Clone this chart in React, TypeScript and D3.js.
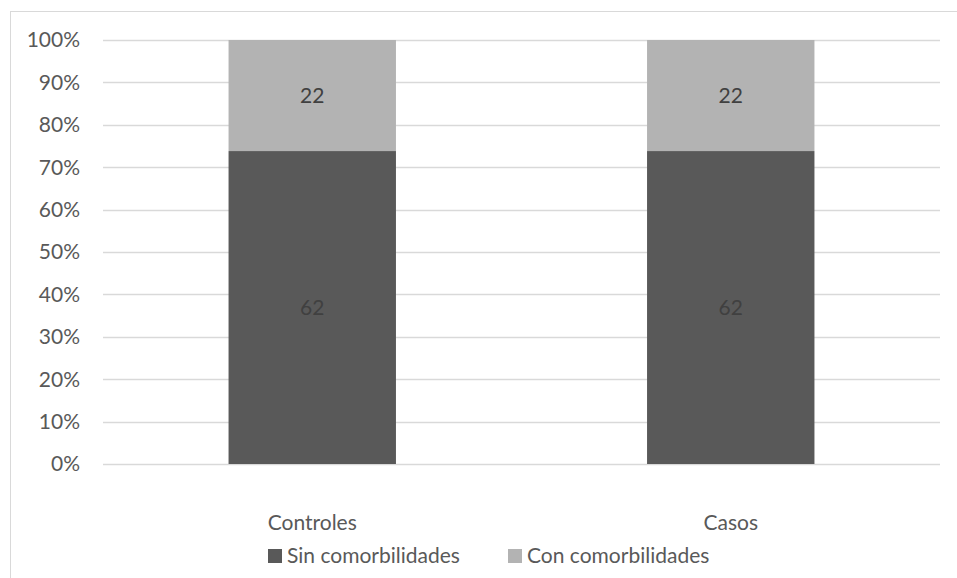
import React, { useRef, useEffect } from 'react';
import * as d3 from 'd3';

const categories = ['Controles', 'Casos'];
const sinValues = [62, 62];
const conValues = [22, 22];
const seriesNames = ['Sin comorbilidades', 'Con comorbilidades'];
const yTicks = [0, 0.1, 0.2, 0.3, 0.4, 0.5, 0.6, 0.7, 0.8, 0.9, 1];

const colors = ['#595959', '#b3b3b3'];
const font = 'Lato, Carlito, "Open Sans", sans-serif';
const fs = 21;

export default function App() {
	const ref = useRef<SVGSVGElement | null>(null);

	useEffect(() => {
		if (!ref.current) return;
		const svg = d3.select(ref.current);
		svg.selectAll('*').remove();

		const width = 957;
		const height = 578;
		const margin = { top: 40, right: 17, bottom: 114, left: 103 };

		// chart border (only top/left visible in the frame)
		svg.append('rect')
			.attr('x', 10.5).attr('y', 11.5)
			.attr('width', 960).attr('height', 600)
			.attr('fill', '#fff').attr('stroke', '#d9d9d9');

		const x = d3.scaleBand<string>()
			.domain(categories)
			.range([margin.left, width - margin.right])
			.paddingInner(0.6)
			.paddingOuter(0.3);
		const y = d3.scaleLinear().domain([0, 1]).range([height - margin.bottom, margin.top]);

		// gridlines
		svg.append('g').selectAll('line').data(yTicks).join('line')
			.attr('x1', margin.left).attr('x2', width - margin.right)
			.attr('y1', d => Math.round(y(d)) + 0.5).attr('y2', d => Math.round(y(d)) + 0.5)
			.attr('stroke', '#d9d9d9').attr('stroke-width', 1.3);

		// y axis labels
		svg.append('g').selectAll('text').data(yTicks).join('text')
			.attr('x', 80).attr('y', d => y(d))
			.attr('dy', '0.35em').attr('text-anchor', 'end')
			.attr('font-family', font).attr('font-size', fs).attr('fill', '#595959')
			.text(d => d3.format('.0%')(d));

		const rows = categories.map((c, i) => {
			const total = sinValues[i] + conValues[i];
			return { cat: c, parts: [sinValues[i], conValues[i]], total };
		});

		rows.forEach(r => {
			let acc = 0;
			r.parts.forEach((v, j) => {
				const y0 = acc / r.total;
				const y1 = (acc + v) / r.total;
				acc += v;
				svg.append('rect')
					.attr('x', x(r.cat)!).attr('width', x.bandwidth())
					.attr('y', y(y1)).attr('height', y(y0) - y(y1))
					.attr('fill', colors[j]);
				svg.append('text')
					.attr('x', x(r.cat)! + x.bandwidth() / 2)
					.attr('y', y((y0 + y1) / 2)).attr('dy', '0.35em')
					.attr('text-anchor', 'middle')
					.attr('font-family', font).attr('font-size', fs).attr('fill', '#404040')
					.text(v);
			});
		});

		// x axis labels
		svg.append('g').selectAll('text').data(categories).join('text')
			.attr('x', d => x(d)! + x.bandwidth() / 2).attr('y', 523)
			.attr('dy', '0.35em').attr('text-anchor', 'middle')
			.attr('font-family', font).attr('font-size', fs).attr('fill', '#595959')
			.text(d => d);

		// legend
		const legendX = [268, 508];
		seriesNames.forEach((name, i) => {
			svg.append('rect')
				.attr('x', legendX[i]).attr('y', 549).attr('width', 14).attr('height', 14)
				.attr('fill', colors[i]);
			svg.append('text')
				.attr('x', legendX[i] + 19).attr('y', 556).attr('dy', '0.35em')
				.attr('font-family', font).attr('font-size', fs).attr('fill', '#595959')
				.text(name);
		});
	}, []);

	return <svg ref={ref} width={957} height={578} style={{ position: 'absolute', left: 0, top: 0 }} />;
}
